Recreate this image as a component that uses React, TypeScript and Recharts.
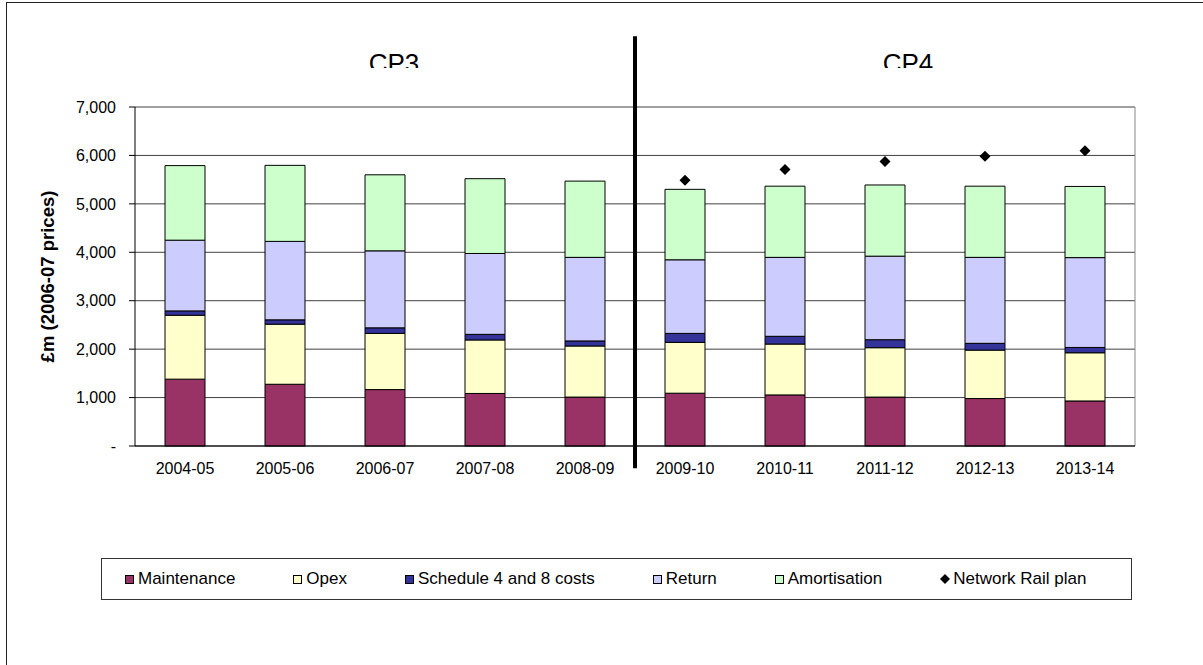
import React from 'react';
import { ComposedChart, Bar, Line, XAxis, YAxis, CartesianGrid, ReferenceLine } from 'recharts';

const years = ['2004-05', '2005-06', '2006-07', '2007-08', '2008-09', '2009-10', '2010-11', '2011-12', '2012-13', '2013-14'];
const maintenance = [1380, 1275, 1165, 1085, 1010, 1090, 1055, 1010, 980, 930];
const opex = [1320, 1240, 1160, 1105, 1055, 1050, 1050, 1020, 1000, 995];
const schedule48 = [90, 90, 115, 115, 105, 185, 160, 165, 140, 110];
const returnCost = [1460, 1620, 1590, 1670, 1725, 1520, 1630, 1725, 1775, 1855];
const amortisation = [1540, 1570, 1570, 1545, 1575, 1455, 1470, 1470, 1470, 1470];
const networkRailPlan = [null, null, null, null, null, 5490, 5710, 5875, 5985, 6095];
const yTicks = [0, 1000, 2000, 3000, 4000, 5000, 6000, 7000];
const periods = [
  { name: 'CP3', center: 394 },
  { name: 'CP4', center: 908 },
];
// category boundaries (0..10) for the Excel style tick marks + CP divider
const boundaries = [0, 1, 2, 3, 4, 5, 6, 7, 8, 9, 10];
const cpSplit = 5;

const series = [
  { key: 'maintenance', name: 'Maintenance', color: '#993366' },
  { key: 'opex', name: 'Opex', color: '#FFFFCC' },
  { key: 'schedule', name: 'Schedule 4 and 8 costs', color: '#333399' },
  { key: 'ret', name: 'Return', color: '#CCCCFF' },
  { key: 'amort', name: 'Amortisation', color: '#CCFFCC' },
];

const data = years.map((year, i) => ({
  year,
  slot: i + 0.5,
  maintenance: maintenance[i],
  opex: opex[i],
  schedule: schedule48[i],
  ret: returnCost[i],
  amort: amortisation[i],
  plan: networkRailPlan[i],
}));

const FONT = '"Liberation Sans", Arial, sans-serif';

const Diamond = (props: any) => {
  const { cx, cy, value, index } = props;
  if (value == null || cy == null) return <g key={`d-${index}`} />;
  const r = 5.5;
  return <path key={`d-${index}`} d={`M${cx},${cy - r}L${cx + r},${cy}L${cx},${cy + r}L${cx - r},${cy}Z`} fill="#000" />;
};

const fmtY = (v: number) => (v === 0 ? '-' : v.toLocaleString('en-GB'));

export default function App() {
  return (
    <div style={{ position: 'absolute', left: 0, top: 0, width: 1203, height: 665, fontFamily: FONT, background: '#fff', overflow: 'hidden' }}>
      {/* outer frame */}
      <div style={{ position: 'absolute', left: 6, top: 2, width: 1250, height: 700, borderTop: '1.5px solid #222', borderLeft: '1.5px solid #222' }} />

      {periods.map((p) => (
        <div key={p.name} style={{ position: 'absolute', left: p.center - 60, top: 50, width: 120, height: 18, overflow: 'hidden', textAlign: 'center', fontSize: 26, lineHeight: '26px', color: '#000', zIndex: 2 }}>
          {p.name}
        </div>
      ))}

      <div style={{ position: 'absolute', left: 0, top: 0 }}>
        <ComposedChart width={1203} height={665} data={data} margin={{ top: 107, right: 68, bottom: 189, left: 20 }}>
          <CartesianGrid vertical={false} stroke="#404040" />
          <XAxis xAxisId="bounds" dataKey="slot" type="number" domain={[0, 10]} allowDataOverflow ticks={boundaries} height={0} tick={false} axisLine={false} tickSize={5} tickLine={{ stroke: '#000' }} />
          <XAxis dataKey="year" height={30} tickLine={false} tickSize={0} tickMargin={17} axisLine={{ stroke: '#000' }} tick={{ fontSize: 16, fill: '#000' }} interval={0} />
          <YAxis
            width={115}
            domain={[0, 7000]}
            ticks={yTicks}
            tickFormatter={fmtY}
            tickSize={6}
            tickMargin={13}
            axisLine={{ stroke: '#000' }}
            tickLine={{ stroke: '#000' }}
            tick={{ fontSize: 16, fill: '#000' }}
            label={{ value: '£m (2006-07 prices)', angle: -90, position: 'insideLeft', offset: 27, style: { textAnchor: 'middle', fontWeight: 'bold', fontSize: 18.5, fill: '#000' } }}
          />
          {series.map((s) => (
            <Bar key={s.key} dataKey={s.key} name={s.name} stackId="a" fill={s.color} stroke="#000" strokeWidth={1} barSize={40} isAnimationActive={false} />
          ))}
          <Line dataKey="plan" name="Network Rail plan" stroke="none" dot={Diamond} activeDot={false} isAnimationActive={false} />
          <ReferenceLine xAxisId="bounds" x={10} stroke="#888" ifOverflow="visible" />
          <ReferenceLine
            xAxisId="bounds"
            segment={[{ x: cpSplit, y: -460 }, { x: cpSplit, y: 8460 }]}
            stroke="#000"
            strokeWidth={4}
            ifOverflow="visible"
          />
        </ComposedChart>
      </div>

      {/* legend */}
      <div style={{ position: 'absolute', left: 101, top: 558, width: 1031, height: 42, border: '1px solid #333', display: 'flex', alignItems: 'center', gap: 58, paddingLeft: 23, boxSizing: 'border-box', fontSize: 17, color: '#000' }}>
        {series.map((s) => (
          <div key={s.key} style={{ display: 'flex', alignItems: 'center', whiteSpace: 'nowrap' }}>
            <span style={{ display: 'inline-block', width: 7, height: 7, background: s.color, border: '1px solid #000', marginRight: 4 }} />
            {s.name}
          </div>
        ))}
        <div style={{ display: 'flex', alignItems: 'center', whiteSpace: 'nowrap' }}>
          <svg width={10} height={10} style={{ marginRight: 3 }}>
            <path d="M5,0L10,5L5,10L0,5Z" fill="#000" />
          </svg>
          Network Rail plan
        </div>
      </div>
    </div>
  );
}
